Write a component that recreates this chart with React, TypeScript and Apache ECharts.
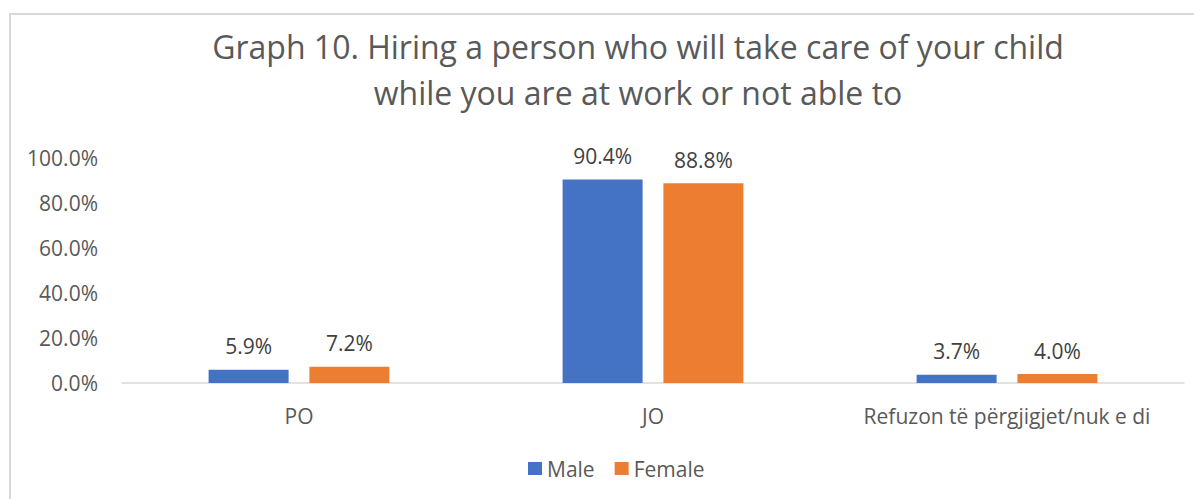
import React, { useEffect, useRef } from "react";
import * as echarts from "echarts";

const categories = ["PO", "JO", "Refuzon të përgjigjet/nuk e di"];
const maleValues = [0.059, 0.904, 0.037];
const femaleValues = [0.072, 0.888, 0.04];
const seriesNames = ["Male", "Female"];
const titleLines = [
  "Graph 10. Hiring a person who will take care of your child",
  "while you are at work or not able to",
];

const FONT = "'Open Sans', 'Noto Sans', sans-serif";
const pct = (v: number) => (v * 100).toFixed(1) + "%";

export default function App() {
  const ref = useRef<HTMLDivElement>(null);
  useEffect(() => {
    if (!ref.current) return;
    const chart = echarts.init(ref.current, undefined, { renderer: "svg" });
    const labelStyle = {
      show: true,
      position: "top" as const,
      distance: 13,
      color: "#404040",
      fontSize: 21,
      fontFamily: FONT,
      formatter: (p: any) => pct(p.value),
    };
    chart.setOption({
      animation: false,
      backgroundColor: "#ffffff",
      textStyle: { fontFamily: FONT },
      title: {
        text: titleLines.join("\n"),
        left: 625,
        top: 10,
        textAlign: "center",
        textStyle: {
          fontSize: 32,
          lineHeight: 46,
          fontWeight: "normal",
          color: "#595959",
          fontFamily: FONT,
        },
      },
      graphic: [
        {
          type: "rect",
          shape: { x: 2, y: 6, width: 1400, height: 800 },
          style: { fill: "none", stroke: "#d9d9d9", lineWidth: 2 },
          silent: true,
          z: -10,
        },
      ],
      legend: {
        data: seriesNames,
        left: 515,
        top: 445,
        itemWidth: 14,
        itemHeight: 13,
        itemGap: 20,
        icon: "rect",
        textStyle: { fontSize: 21, color: "#595959", fontFamily: FONT },
      },
      grid: { left: 114, right: 18, top: 150, height: 225, containLabel: false },
      xAxis: {
        type: "category",
        data: categories,
        axisTick: { show: false },
        axisLine: { lineStyle: { color: "#d9d9d9", width: 1.5 } },
        axisLabel: { color: "#595959", fontSize: 21, margin: 22, interval: 0, fontFamily: FONT },
      },
      yAxis: {
        type: "value",
        min: 0,
        max: 1,
        interval: 0.2,
        splitLine: { show: false },
        axisLine: { show: false },
        axisTick: { show: false },
        axisLabel: {
          color: "#595959",
          fontSize: 21,
          margin: 24,
          fontFamily: FONT,
          formatter: (v: number) => pct(v),
        },
      },
      series: [
        {
          name: seriesNames[0],
          type: "bar",
          data: maleValues,
          barWidth: 80,
          barGap: "26%",
          itemStyle: { color: "#4472C4" },
          label: labelStyle,
        },
        {
          name: seriesNames[1],
          type: "bar",
          data: femaleValues,
          barWidth: 80,
          itemStyle: { color: "#ED7D31" },
          label: labelStyle,
        },
      ],
    });
    return () => chart.dispose();
  }, []);
  return <div ref={ref} style={{ width: 1194, height: 491 }} />;
}
